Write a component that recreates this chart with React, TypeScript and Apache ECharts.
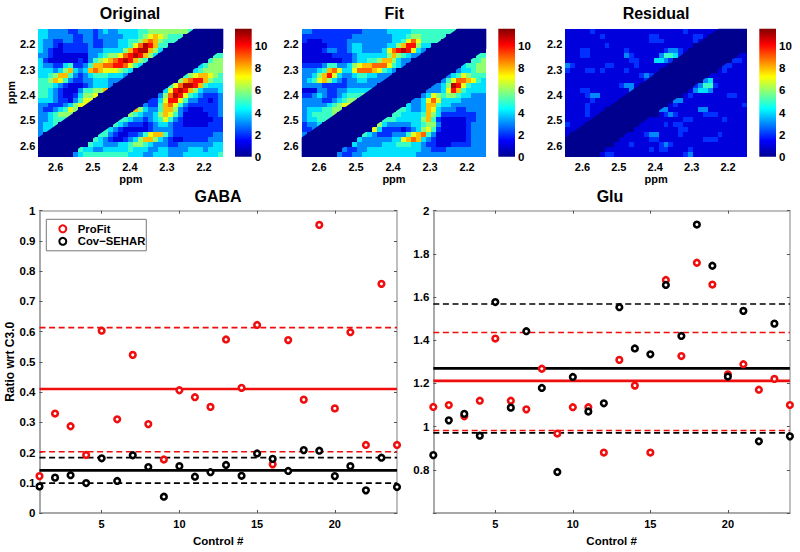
import React, { useEffect, useRef } from "react";
import * as echarts from "echarts";

const FONT = '"Liberation Sans", Arial, sans-serif';

// Spectra maps: one character per cell (base 36), rows top to bottom, columns left to right
const originalRows = [
  "44333 32233 32343 34444 55666 66666 50000 00",
  "44333 33223 32333 33444 56787 65550 00000 00",
  "43322 33223 32233 34455 68986 55500 00000 00",
  "43321 22222 32233 34457 9ba85 50000 00000 00",
  "43211 22222 33344 4468a bb864 00000 00000 00",
  "33211 11111 33456 679ab a8640 00000 00000 55",
  "42111 11121 35678 9aba8 65000 00000 00005 66",
  "43322 45223 58899 aa975 40000 00000 00456 66",
  "44434 68434 89877 76540 00000 00000 04566 66",
  "44568 85323 45554 44300 00000 00005 67887 65",
  "55687 53223 34443 33000 00000 00068 9aa86 55",
  "55543 21112 34443 00000 00000 0579b ba854 44",
  "55432 11135 56680 00000 00000 47aba 86433 34",
  "55432 11246 67000 00000 00003 69ba7 54322 23",
  "44432 21357 70000 00000 00224 7aa75 33221 23",
  "33222 34677 00000 00000 03225 89753 22222 23",
  "32234 57600 00000 00008 64335 88632 11122 23",
  "33456 66000 00000 00065 43346 87531 11112 23",
  "33455 50000 00000 05543 32345 75321 11111 22",
  "34450 00000 00000 54322 21234 43221 11112 22",
  "34400 00000 00054 32111 11233 33222 22222 22",
  "30000 00000 00553 21122 35788 53222 22222 33",
  "00000 00000 05432 11234 68864 32112 22223 33",
  "00000 00000 54433 34456 65433 32233 33333 44",
  "00000 00054 43344 44454 44334 43333 44434 44",
  "00000 00345 55555 55544 43344 43334 44444 45",
];
const fitRows = [
  "33222 22222 22333 33444 44555 55555 50000 00",
  "22222 22222 33333 33344 45665 55550 00000 00",
  "21112 22223 33333 33344 57975 55500 00000 00",
  "11111 22223 44333 33446 8aa64 40000 00000 00",
  "11112 33223 44333 3479a ba743 00000 00000 00",
  "11111 12222 34444 44686 54330 00000 00000 55",
  "11111 11122 34455 68864 33000 00000 00005 56",
  "22223 55334 67889 99754 30000 00000 00455 66",
  "33345 89744 79998 75430 00000 00000 03445 66",
  "33468 a7433 45544 33300 00000 00003 45765 55",
  "34578 64323 34433 33000 00000 00035 79987 54",
  "33332 22223 33333 00000 00000 03346 ba754 44",
  "11133 22334 44440 00000 00000 33347 a8544 44",
  "22343 22345 55600 00000 00003 47656 65443 33",
  "33332 23456 60000 00000 00334 79744 44333 33",
  "33333 45677 00000 00000 04334 88544 33333 33",
  "34445 56600 00000 00005 54334 87433 32233 33",
  "34555 56000 00000 00055 44445 86422 22222 33",
  "34455 50000 00000 05554 44446 85211 11122 33",
  "23340 00000 00000 64333 33445 66311 11123 33",
  "22300 00000 00007 42222 12346 75211 11123 33",
  "30000 00000 00543 22233 35789 53111 11123 33",
  "00000 00000 04333 33344 78984 32111 11123 33",
  "00000 00000 43333 34445 55443 22111 22223 33",
  "00000 00032 23344 44444 44443 32223 33333 33",
  "00000 00322 33444 44444 44433 33333 33333 33",
];
const residualRows = [
  "11111 21111 11111 11111 11112 11111 10000 00",
  "11111 11211 11111 11221 11111 12210 00000 00",
  "11111 11111 11111 11222 11111 12100 00000 00",
  "11111 11121 11111 11111 11111 10000 00000 00",
  "11122 11111 11211 11111 23321 00000 00000 00",
  "11122 11111 11321 11113 55420 00000 00000 11",
  "11111 11111 11122 11144 32000 00000 00002 21",
  "32111 11122 11112 11111 10000 00000 00221 11",
  "21112 21211 11211 11110 00000 00000 01211 11",
  "11111 11111 11111 23200 00000 00001 11111 11",
  "11111 11111 11111 12000 00000 00034 11111 11",
  "11111 11111 12331 00000 00000 02355 21111 11",
  "11122 11111 11130 00000 00000 13443 11111 11",
  "11112 33111 11100 00000 00001 21111 11122 11",
  "11111 21111 10000 00000 00331 11111 11111 11",
  "11112 11111 00000 00000 01211 11111 11111 12",
  "11112 11100 00000 00003 31111 11331 11111 11",
  "11112 11000 00000 00001 23211 11122 21111 11",
  "11111 10000 00000 01111 11112 21111 11211 11",
  "21110 00000 00000 11111 21221 11111 11111 11",
  "11100 00000 00001 11111 11122 11111 11111 11",
  "10000 00000 00111 12331 11121 11111 12111 11",
  "00000 00000 01111 11221 11111 11122 21111 11",
  "00000 00000 11121 11112 32111 11111 11111 11",
  "00000 00011 11111 11212 21111 21111 11111 11",
  "00000 00122 11111 11111 11112 31111 11111 11",
];

// Axis extents of the maps (ppm), both axes run in the drawn direction
const ppmXRange = [2.148, 2.647];
const ppmYRange = [2.138, 2.643];
const ppmTicks = [2.2, 2.3, 2.4, 2.5, 2.6];
const colorRange = [0, 11.6];
const colorTicks = [0, 2, 4, 6, 8, 10];
// Zero band around the diagonal, outline in ppm
const bandOutline = [
  [2.647, 2.567],
  [2.226, 2.138],
  [2.148, 2.138],
  [2.148, 2.218],
  [2.571, 2.643],
  [2.647, 2.643],
];

// Scatter panels
const controls = [1, 2, 3, 4, 5, 6, 7, 8, 9, 10, 11, 12, 13, 14, 15, 16, 17, 18, 19, 20, 21, 22, 23, 24];
const controlTicks = [5, 10, 15, 20];
const gabaProFit = [0.122, 0.329, 0.287, 0.192, 0.603, 0.31, 0.523, 0.294, 0.177, 0.406, 0.383, 0.351, 0.574, 0.414, 0.622, 0.161, 0.572, 0.375, 0.953, 0.346, 0.598, 0.225, 0.758, 0.225];
const gabaCov = [0.088, 0.117, 0.125, 0.099, 0.181, 0.106, 0.191, 0.152, 0.054, 0.155, 0.12, 0.135, 0.159, 0.123, 0.197, 0.179, 0.139, 0.208, 0.206, 0.122, 0.155, 0.075, 0.183, 0.086];
const gluProFit = [1.091, 1.1, 1.048, 1.12, 1.408, 1.12, 1.08, 1.268, 0.968, 1.09, 1.09, 0.88, 1.309, 1.19, 0.88, 1.679, 1.327, 1.759, 1.658, 1.242, 1.289, 1.171, 1.221, 1.1];
const gluCov = [0.868, 1.029, 1.059, 0.958, 1.577, 1.088, 1.442, 1.179, 0.79, 1.23, 1.07, 1.108, 1.553, 1.362, 1.335, 1.656, 1.42, 1.936, 1.745, 1.232, 1.536, 0.932, 1.477, 0.955];
// mean, lower band, upper band
const gabaProFitLines = [0.41, 0.2026, 0.6134];
const gabaCovLines = [0.141, 0.0986, 0.183];
const gluProFitLines = [1.212, 0.982, 1.436];
const gluCovLines = [1.27, 0.971, 1.568];
const gabaTicks = [0, 0.1, 0.2, 0.3, 0.4, 0.5, 0.6, 0.7, 0.8, 0.9, 1];
const gluLabelTicks = [0.8, 1, 1.2, 1.4, 1.6, 1.8, 2];
const gluTicks = [0.6, 0.8, 1, 1.2, 1.4, 1.6, 1.8, 2];

const RED = "#f00d0d";
const BLACK = "#000";
const FRAME = "#8c8c8c";

const jetStops = [
  [0, 0, 0, 143],
  [0.125, 0, 0, 255],
  [0.375, 0, 255, 255],
  [0.625, 255, 255, 0],
  [0.875, 255, 0, 0],
  [1, 128, 0, 0],
];
function jet(t: number) {
  const v = Math.min(1, Math.max(0, t));
  for (let i = 1; i < jetStops.length; i++) {
    const a = jetStops[i - 1];
    const b = jetStops[i];
    if (v <= b[0]) {
      const f = (v - a[0]) / (b[0] - a[0]);
      const c = [1, 2, 3].map((k) => Math.round(a[k] + (b[k] - a[k]) * f));
      return `rgb(${c[0]},${c[1]},${c[2]})`;
    }
  }
  return "rgb(128,0,0)";
}

function cellsFrom(rows: string[]) {
  const parsed = rows.map((r) => r.replace(/ /g, "").split("").map((ch) => parseInt(ch, 36)));
  const nR = parsed.length;
  const nC = parsed[0].length;
  const dx = (ppmXRange[1] - ppmXRange[0]) / nC;
  const dy = (ppmYRange[1] - ppmYRange[0]) / nR;
  const out: number[][] = [];
  parsed.forEach((row, r) =>
    row.forEach((v, c) => {
      out.push([ppmXRange[1] - (c + 0.5) * dx, ppmYRange[0] + (r + 0.5) * dy, v]);
    })
  );
  return { data: out, dx, dy };
}

const tickLabel = {
  color: "#000",
  fontFamily: FONT,
  fontWeight: "bold" as const,
  fontSize: 11,
};
const titleText = { color: "#000", fontFamily: FONT, fontWeight: "bold" as const, fontSize: 16 };

const maps = [
  { title: "Original", rows: originalRows, left: 38.3, width: 185, barLeft: 235, yName: "ppm", titleX: 130 },
  { title: "Fit", rows: fitRows, left: 301.7, width: 184.6, barLeft: 498.3, yName: "", titleX: 394.3 },
  { title: "Residual", rows: residualRows, left: 565.3, width: 181.7, barLeft: 759.3, yName: "", titleX: 656 },
];

function buildOption() {
  const grid: any[] = [];
  const xAxis: any[] = [];
  const yAxis: any[] = [];
  const series: any[] = [];
  const title: any[] = [];
  const top = 28.7;
  const height = 128;

  maps.forEach((m) => {
    title.push({ text: m.title, left: m.titleX, top: 5, padding: 0, textAlign: "center", textStyle: titleText });
    // map
    const g = grid.length;
    const ax = xAxis.length;
    const ay = yAxis.length;
    grid.push({ left: m.left, top, width: m.width, height });
    xAxis.push({
      gridIndex: g,
      type: "value",
      inverse: true,
      min: ppmXRange[0],
      max: ppmXRange[1],
      name: "ppm",
      nameLocation: "middle",
      nameGap: 17,
      nameTextStyle: tickLabel,
      axisLine: { show: false, onZero: false },
      axisTick: { show: false },
      splitLine: { show: false },
      axisLabel: { ...tickLabel, margin: 5, customValues: ppmTicks, formatter: (v: number) => v.toFixed(1) },
    });
    yAxis.push({
      gridIndex: g,
      type: "value",
      inverse: true,
      min: ppmYRange[0],
      max: ppmYRange[1],
      name: m.yName,
      nameLocation: "middle",
      nameRotate: 90,
      nameGap: 22,
      nameTextStyle: tickLabel,
      axisLine: { show: false, onZero: false },
      axisTick: { show: false },
      splitLine: { show: false },
      axisLabel: { ...tickLabel, margin: 3, customValues: ppmTicks, formatter: (v: number) => v.toFixed(1) },
    });
    const { data, dx, dy } = cellsFrom(m.rows);
    series.push({
      type: "custom",
      xAxisIndex: ax,
      yAxisIndex: ay,
      coordinateSystem: "cartesian2d",
      silent: true,
      encode: { x: 0, y: 1 },
      data,
      renderItem: (_: any, api: any) => {
        const p = api.coord([api.value(0), api.value(1)]);
        const s = api.size([dx, dy]);
        const x0 = Math.round(p[0] - s[0] / 2);
        const x1 = Math.round(p[0] + s[0] / 2);
        const y0 = Math.round(p[1] - s[1] / 2);
        const y1 = Math.round(p[1] + s[1] / 2);
        return {
          type: "rect",
          shape: { x: x0, y: y0, width: x1 - x0, height: y1 - y0 },
          style: { fill: jet(api.value(2) / colorRange[1]) },
        };
      },
    });
    series.push({
      type: "custom",
      xAxisIndex: ax,
      yAxisIndex: ay,
      coordinateSystem: "cartesian2d",
      silent: true,
      z: 3,
      encode: { x: 0, y: 1 },
      data: bandOutline,
      renderItem: (params: any, api: any) => {
        if (params.dataIndex !== 0) return null;
        return {
          type: "polygon",
          shape: { points: bandOutline.map((pt) => api.coord(pt)) },
          style: { fill: jet(0) },
        };
      },
    });
    // colour bar
    const b = grid.length;
    const bx = xAxis.length;
    const by = yAxis.length;
    grid.push({ left: m.barLeft, top, width: 16.7, height });
    xAxis.push({ gridIndex: b, type: "value", min: 0, max: 1, show: false });
    yAxis.push({
      gridIndex: b,
      type: "value",
      position: "right",
      min: colorRange[0],
      max: colorRange[1],
      axisLine: { show: false, onZero: false },
      axisTick: { show: false },
      splitLine: { show: false },
      axisLabel: { ...tickLabel, fontSize: 11.5, margin: 3, customValues: colorTicks },
    });
    series.push({
      type: "custom",
      xAxisIndex: bx,
      yAxisIndex: by,
      coordinateSystem: "cartesian2d",
      silent: true,
      encode: { y: 0 },
      data: [colorRange],
      renderItem: (_: any, api: any) => {
        const a = api.coord([0, colorRange[1]]);
        const c = api.coord([1, colorRange[0]]);
        return {
          type: "rect",
          shape: { x: a[0], y: a[1], width: c[0] - a[0], height: c[1] - a[1] },
          style: {
            fill: {
              type: "linear",
              x: 0,
              y: 1,
              x2: 0,
              y2: 0,
              colorStops: jetStops.map((s) => ({ offset: s[0], color: `rgb(${s[1]},${s[2]},${s[3]})` })),
            },
          },
        };
      },
    });
  });

  const panels = [
    {
      title: "GABA", titleX: 218, left: 39.5, width: 357.5, yMin: 0, yMax: 1, yName: "Ratio wrt C3.0",
      yLabels: gabaTicks, yTicks: gabaTicks, red: gabaProFit, black: gabaCov, redLines: gabaProFitLines, blackLines: gabaCovLines,
    },
    {
      title: "Glu", titleX: 610, left: 433.3, width: 356.6, yMin: 0.6, yMax: 2, yName: "",
      yLabels: gluLabelTicks, yTicks: gluTicks, red: gluProFit, black: gluCov, redLines: gluProFitLines, blackLines: gluCovLines,
    },
  ];
  const sTop = 210.7;
  const sH = 308.6;
  panels.forEach((p) => {
    title.push({ text: p.title, left: p.titleX, top: 188, padding: 0, textAlign: "center", textStyle: titleText });
    const g = grid.length;
    const ax = xAxis.length;
    const ay = yAxis.length;
    grid.push({ left: p.left, top: sTop, width: p.width, height: sH });
    const tick = { show: true, inside: true, length: 3, lineStyle: { color: "#555", width: 1 } };
    xAxis.push({
      gridIndex: g,
      type: "value",
      min: 1,
      max: 24,
      name: "Control #",
      nameLocation: "middle",
      nameGap: 22,
      nameTextStyle: { ...tickLabel, fontSize: 11.5 },
      axisLine: { onZero: false, lineStyle: { color: FRAME, width: 1.5 } },
      axisTick: { ...tick, customValues: controlTicks },
      splitLine: { show: false },
      axisLabel: { ...tickLabel, margin: 5, customValues: controlTicks },
    });
    yAxis.push({
      gridIndex: g,
      type: "value",
      min: p.yMin,
      max: p.yMax,
      name: p.yName,
      nameLocation: "middle",
      nameRotate: 90,
      nameGap: 21,
      nameTextStyle: { ...tickLabel, fontSize: 12 },
      axisLine: { onZero: false, lineStyle: { color: FRAME, width: 1.5 } },
      axisTick: { ...tick, customValues: p.yTicks },
      splitLine: { show: false },
      axisLabel: { ...tickLabel, fontSize: 11.5, margin: 4, customValues: p.yLabels },
    });
    // mirrored frame
    xAxis.push({
      gridIndex: g, type: "value", position: "top", min: 1, max: 24,
      axisLine: { onZero: false, lineStyle: { color: "#aaa", width: 1.5 } },
      axisTick: { ...tick, customValues: controlTicks },
      axisLabel: { show: false },
      splitLine: { show: false },
    });
    yAxis.push({
      gridIndex: g, type: "value", position: "right", min: p.yMin, max: p.yMax,
      axisLine: { onZero: false, lineStyle: { color: "#aaa", width: 1.5 } },
      axisTick: { ...tick, customValues: p.yTicks },
      axisLabel: { show: false },
      splitLine: { show: false },
    });
    const addLines = (vals: number[], color: string) => {
      vals.forEach((v, i) => {
        series.push({
          type: "line",
          xAxisIndex: ax,
          yAxisIndex: ay,
          silent: true,
          z: 1,
          symbol: "none",
          data: [[1, v], [24, v]],
          lineStyle: i === 0 ? { color, width: 2.6 } : { color, width: 1.7, type: [6, 3.6] },
        });
      });
    };
    addLines(p.redLines, RED);
    addLines(p.blackLines, BLACK);
    const addDots = (name: string, vals: number[], color: string) => {
      series.push({
        type: "scatter",
        name,
        xAxisIndex: ax,
        yAxisIndex: ay,
        z: 2,
        symbol: "circle",
        symbolSize: 5.6,
        clip: false,
        data: controls.map((c, i) => [c, vals[i]]),
        itemStyle: { color: "#fff", borderColor: color, borderWidth: 2.6, opacity: 1 },
      });
    };
    addDots("ProFit", p.red, RED);
    addDots("Cov\u2212SEHAR", p.black, BLACK);
  });

  return {
    animation: false,
    backgroundColor: "#fff",
    title,
    grid,
    xAxis,
    yAxis,
    series,
    legend: {
      left: 46.3,
      top: 219.3,
      orient: "vertical",
      align: "left",
      data: ["ProFit", "Cov\u2212SEHAR"],
      selectedMode: false,
      backgroundColor: "#fff",
      borderColor: "#777",
      borderWidth: 1,
      padding: [4, 1, 4, 12],
      itemGap: 1.5,
      itemWidth: 20,
      itemHeight: 7,
      textStyle: { ...tickLabel, fontSize: 11.3 },
    },
  };
}

export default function App() {
  const ref = useRef<HTMLDivElement>(null);
  useEffect(() => {
    const chart = echarts.init(ref.current!, undefined, { renderer: "svg" });
    chart.setOption(buildOption() as any);
    return () => chart.dispose();
  }, []);
  return <div ref={ref} style={{ position: "absolute", left: 0, top: 0, width: 800, height: 552 }} />;
}
